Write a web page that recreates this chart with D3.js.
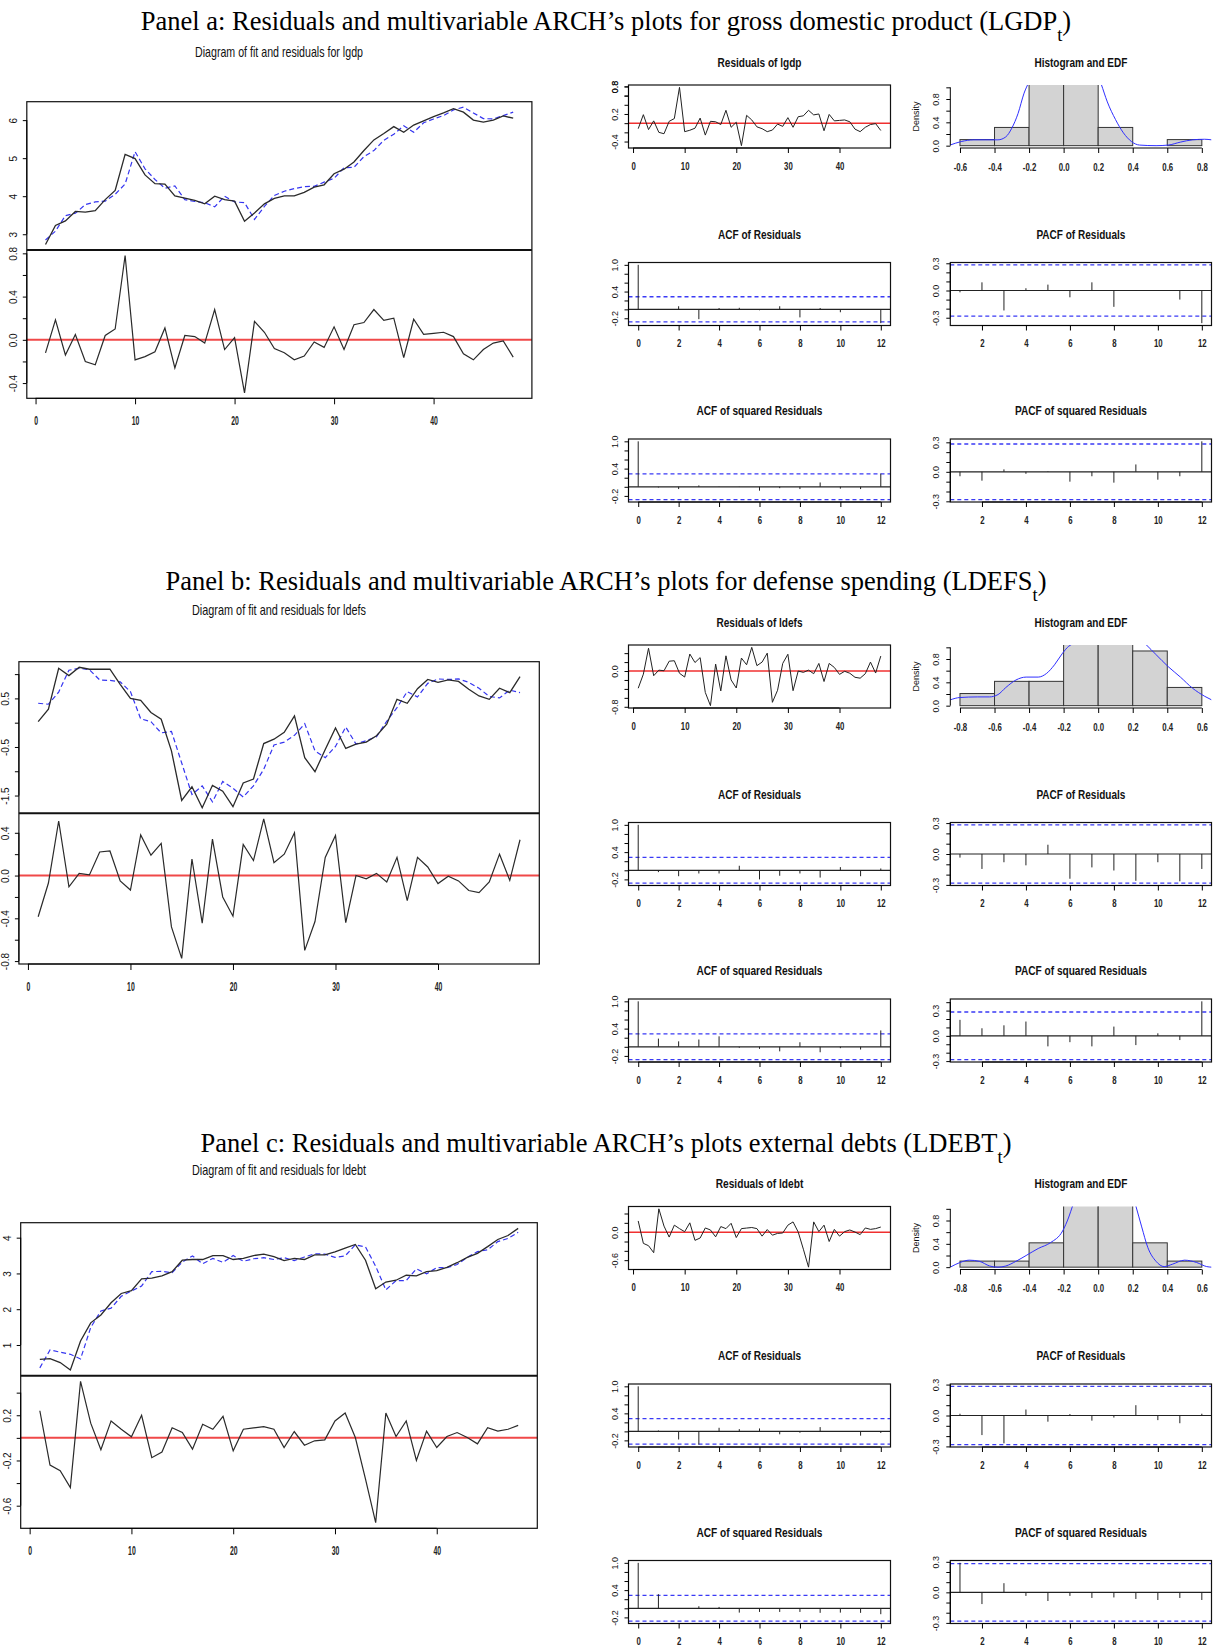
<!DOCTYPE html>
<html>
<head>
<meta charset="utf-8">
<script src="https://cdn.jsdelivr.net/npm/d3@7"></script>
<style>
body { margin: 0; background: #fff; }
svg text { font-family: "Liberation Sans", Arial, sans-serif; fill: #111; }
svg text.ptitle { font-family: "Liberation Serif", "Times New Roman", serif; fill: #000; }
svg .x.axis text { font-weight: bold; fill: #222; }
</style>
</head>
<body>
<div id="chart-area"></div>
<script>
/*
*    ARCH residual diagnostics for lgdp, ldefs, ldebt
*/

// ---------- Panel a : lgdp ----------
var gdpActual = [2.73,3.23,3.35,3.60,3.58,3.62,3.91,4.15,5.10,4.99,4.56,4.33,4.32,4.01,3.95,3.89,3.80,4.00,3.91,3.87,
    3.34,3.56,3.80,3.94,4.01,4.01,4.10,4.24,4.30,4.59,4.71,4.90,5.20,5.48,5.65,5.83,5.68,5.87,5.98,6.09,
    6.19,6.30,6.21,6.00,5.95,6.00,6.11,6.05];
var gdpFitted = [2.85,3.08,3.49,3.55,3.78,3.85,3.87,4.05,4.32,5.17,4.72,4.44,4.21,4.27,3.91,3.86,3.83,3.72,4.00,3.85,
    3.83,3.39,3.73,4.02,4.13,4.20,4.25,4.26,4.37,4.47,4.75,4.76,5.04,5.20,5.47,5.63,5.85,5.68,5.93,6.03,
    6.12,6.27,6.34,6.19,6.04,6.03,6.12,6.21];
var gdpResid = [-0.12,0.185,-0.14,0.05,-0.2,-0.23,0.04,0.1,0.78,-0.185,-0.155,-0.11,0.11,-0.26,0.04,0.03,-0.03,0.28,-0.09,0.02,
    -0.49,0.17,0.07,-0.08,-0.12,-0.185,-0.15,-0.02,-0.07,0.12,-0.09,0.14,0.16,0.28,0.18,0.2,-0.165,0.19,0.05,0.06,
    0.07,0.03,-0.13,-0.185,-0.09,-0.03,-0.01,-0.16];
var gdpBreaks = [-0.6,-0.4,-0.2,0,0.2,0.4,0.6,0.8];
var gdpDensity = [0.104,0.3125,2.08,2.08,0.3125,0,0.104];
var gdpEdfX = [-0.656,-0.593,-0.52,-0.45,-0.38,-0.335,-0.30,-0.264,-0.229,-0.20,-0.10,0.0,0.10,0.217,0.253,0.30,0.346,0.393,0.44,0.535,0.605,0.675,0.746,0.816,0.856];
var gdpEdfY = [0.012,0.07,0.10,0.10,0.10,0.15,0.30,0.55,0.90,1.10,1.9,2.2,1.9,1.06,0.75,0.45,0.22,0.07,0.01,0.0,0.01,0.06,0.10,0.11,0.10];
var gdpAcf    = [1,-0.01,0.07,-0.22,0.03,0.035,-0.02,0.07,-0.18,0.03,-0.065,-0.01,-0.31];
var gdpPacf   = [-0.02,0.09,-0.22,0.025,0.065,-0.075,0.09,-0.18,0.005,-0.005,-0.10,-0.36];
var gdpAcfSq  = [1,-0.015,-0.05,0.03,0.005,-0.005,-0.085,-0.03,-0.05,0.095,-0.04,-0.05,0.29];
var gdpPacfSq = [-0.045,-0.09,0.025,-0.02,0.005,-0.1,-0.045,-0.11,0.075,-0.08,-0.045,0.31];
var gdpFitTicks = [3,4,5,6], gdpFitLabels = [3,4,5,6];
var gdpResTicks = [-0.4,-0.2,0,0.2,0.4,0.6,0.8], gdpResLabels = [-0.4,0,0.4,0.8];
var gdpSmallLabels = [-0.4,0.2,0.8];

// ---------- Panel b : ldefs ----------
var defsActual = [0.02,0.28,1.12,0.97,1.14,1.10,1.10,1.10,0.79,0.50,0.46,0.21,0.07,-0.58,-1.60,-1.32,-1.75,-1.29,-1.41,-1.73,
    -1.24,-1.16,-0.43,-0.34,-0.20,0.14,-0.72,-1.01,-0.55,-0.11,-0.53,-0.44,-0.40,-0.27,-0.03,0.48,0.40,0.70,0.89,0.83,
    0.88,0.85,0.69,0.55,0.48,0.71,0.62,0.95];
var defsFitted = [0.40,0.38,0.63,1.08,1.12,1.09,0.88,0.87,0.84,0.64,0.08,0.02,-0.21,-0.18,-0.83,-1.48,-1.30,-1.63,-1.21,-1.35,
    -1.53,-1.30,-0.96,-0.46,-0.40,-0.26,-0.02,-0.58,-0.72,-0.49,-0.09,-0.44,-0.37,-0.29,0.03,0.31,0.64,0.53,0.81,0.90,
    0.89,0.90,0.83,0.71,0.54,0.51,0.67,0.62];
var defsResid = [-0.385,-0.07,0.51,-0.105,0.02,0.006,0.22,0.23,-0.05,-0.135,0.38,0.19,0.30,-0.48,-0.775,0.155,-0.445,0.34,-0.20,-0.38,
    0.29,0.14,0.53,0.12,0.20,0.40,-0.70,-0.43,0.17,0.375,-0.44,0.0,-0.03,0.02,-0.06,0.17,-0.235,0.17,0.08,-0.075,
    -0.006,-0.05,-0.14,-0.16,-0.06,0.20,-0.045,0.335];
var defsBreaks = [-0.8,-0.6,-0.4,-0.2,0,0.2,0.4,0.6];
var defsDensity = [0.208,0.417,0.417,1.25,1.46,0.9375,0.3125];
var defsEdfX = [-0.856,-0.80,-0.70,-0.63,-0.58,-0.535,-0.476,-0.417,-0.347,-0.30,-0.253,-0.206,-0.17,-0.147,-0.05,0.05,0.15,0.276,0.335,0.405,0.476,0.546,0.617,0.656];
var defsEdfY = [0.10,0.14,0.15,0.15,0.19,0.31,0.44,0.49,0.49,0.55,0.70,0.90,1.02,1.06,1.4,1.5,1.35,1.05,0.875,0.67,0.49,0.30,0.16,0.10];
var defsAcf    = [1,-0.04,-0.13,-0.07,-0.07,0.10,-0.20,-0.12,-0.07,-0.16,0.07,-0.13,0.04];
var defsPacf   = [-0.035,-0.145,-0.08,-0.11,0.09,-0.24,-0.13,-0.16,-0.26,-0.08,-0.265,-0.145];
var defsAcfSq  = [1,0.18,0.12,0.16,0.23,-0.02,-0.045,-0.10,0.10,-0.12,-0.03,-0.06,0.36];
var defsPacfSq = [0.19,0.09,0.125,0.17,-0.125,-0.075,-0.125,0.11,-0.11,0.03,-0.05,0.41];
var defsFitTicks = [-1.5,-1,-0.5,0,0.5,1], defsFitLabels = [-1.5,-0.5,0.5];
var defsResTicks = [-0.8,-0.6,-0.4,-0.2,0,0.2,0.4], defsResLabels = [-0.8,-0.4,0,0.4];
var defsSmallLabels = [-0.8,0];

// ---------- Panel c : ldebt ----------
var debtActual = [0.60,0.62,0.51,0.30,1.11,1.62,1.84,2.18,2.44,2.52,2.85,2.87,2.93,3.05,3.37,3.39,3.39,3.50,3.50,3.39,
    3.42,3.50,3.54,3.47,3.36,3.42,3.39,3.52,3.52,3.60,3.71,3.81,3.37,2.57,2.76,2.81,2.95,2.93,3.05,3.08,
    3.17,3.30,3.45,3.56,3.75,3.95,4.06,4.26];
var debtFitted = [0.36,0.86,0.80,0.74,0.61,1.49,1.95,2.03,2.36,2.51,2.65,3.05,3.06,3.02,3.32,3.49,3.27,3.42,3.31,3.50,
    3.34,3.41,3.44,3.39,3.44,3.36,3.46,3.55,3.54,3.45,3.49,3.80,3.74,3.20,2.54,2.80,2.80,3.13,2.99,3.16,
    3.16,3.25,3.45,3.61,3.66,3.89,3.98,4.15];
var debtResid = [0.24,-0.24,-0.29,-0.44,0.50,0.13,-0.105,0.15,0.076,0.01,0.20,-0.175,-0.125,0.09,0.047,-0.10,0.12,0.076,0.19,-0.115,
    0.076,0.088,0.10,0.076,-0.085,0.056,-0.065,-0.026,-0.018,0.15,0.22,0.003,-0.365,-0.75,0.22,0.012,0.15,-0.20,0.06,-0.085,
    0.012,0.047,0.003,-0.053,0.09,0.06,0.076,0.11];
var debtBreaks = [-0.8,-0.6,-0.4,-0.2,0,0.2,0.4,0.6];
var debtDensity = [0.104,0.104,0.417,1.875,1.98,0.417,0.104];
var debtEdfX = [-0.856,-0.80,-0.746,-0.687,-0.628,-0.58,-0.535,-0.476,-0.417,-0.347,-0.276,-0.206,-0.17,-0.147,-0.05,0.05,0.15,0.217,0.252,0.287,0.335,0.382,0.429,0.50,0.57,0.628,0.656];
var debtEdfY = [0.0,0.08,0.12,0.10,0.02,0.0,0.02,0.10,0.20,0.32,0.42,0.62,0.86,1.06,1.8,2.0,1.7,1.06,0.69,0.34,0.10,0.01,0.05,0.12,0.08,0.01,0.0];
var debtAcf    = [1,0.02,-0.18,-0.295,0.08,0.05,0.065,-0.065,-0.03,0.095,0.003,-0.095,-0.035];
var debtPacf   = [0.017,-0.19,-0.27,0.058,-0.06,0.014,-0.05,-0.02,0.10,-0.045,-0.075,0.017];
var debtAcfSq  = [1,0.31,-0.01,0.045,0.03,-0.095,-0.08,-0.08,-0.08,-0.10,-0.095,-0.10,-0.13];
var debtPacfSq = [0.29,-0.115,0.09,-0.035,-0.085,-0.035,-0.055,-0.05,-0.065,-0.075,-0.055,-0.075];
var debtFitTicks = [1,2,3,4], debtFitLabels = [1,2,3,4];
var debtResTicks = [-0.6,-0.4,-0.2,0,0.2,0.4], debtResLabels = [-0.6,-0.2,0.2];
var debtSmallLabels = [-0.6,0];

// ---------- shared ticks ----------
var timeTicks = [0,10,20,30,40];
var acfLagTicks = [0,2,4,6,8,10,12];
var pacfLagTicks = [2,4,6,8,10,12];
var acfTicks = [-0.2,0,0.2,0.4,0.6,0.8,1.0], acfLabels = [-0.2,0.4,1.0];
var pacfTicks = [-0.3,-0.2,-0.1,0,0.1,0.2,0.3,0.4], pacfLabels = [-0.3,0,0.3];
var densTicks = [0,0.2,0.4,0.6,0.8,1.0], densLabels = [0,0.4,0.8];
var ciLevel = 0.283;   // 1.96/sqrt(48)

var width = 1216, height = 1647;

var svg = d3.select("#chart-area").append("svg")
    .attr("width", width)
    .attr("height", height);

// R style axis range: data range stretched 4%
function pad(lo, hi) { var d = (hi - lo) * 0.04; return [lo - d, hi + d]; }
function fmt1(d) { return (Math.round(d * 10) / 10).toFixed(1); }
function fmtInt(d) { return String(d); }
function has(arr, v) { return arr.some(function(a){ return Math.abs(a - v) < 1e-9; }); }

function box(g, x0, y0, x1, y1) {
    g.append("rect")
        .attr("x", x0).attr("y", y0)
        .attr("width", x1 - x0).attr("height", y1 - y0)
        .attr("fill", "none")
        .attr("stroke", "#111")
        .attr("stroke-width", 1.2);
}

function bottomAxis(g, scale, ticks, y, fmt, fs, sx, labelY, tick) {
    var ax = g.append("g")
        .attr("class", "x axis")
        .attr("transform", "translate(0," + y + ")")
        .call(d3.axisBottom(scale).tickValues(ticks).tickSize(tick).tickSizeOuter(0).tickFormat(fmt));
    ax.select(".domain").attr("d", "M" + scale(ticks[0]) + ",0H" + scale(ticks[ticks.length - 1]));
    ax.selectAll("text")
        .attr("y", labelY)
        .attr("dy", "0.35em")
        .attr("font-size", fs)
        .attr("transform", "scale(" + sx + ",1)");
    return ax;
}

function leftAxis(g, scale, ticks, labels, fmt, x, fs, gap) {
    var dom = scale.domain();
    ticks = ticks.filter(function(t){ return t >= Math.min(dom[0], dom[1]) - 1e-9 && t <= Math.max(dom[0], dom[1]) + 1e-9; });
    var ax = g.append("g")
        .attr("class", "y axis")
        .attr("transform", "translate(" + x + ",0)")
        .call(d3.axisLeft(scale).tickValues(ticks).tickSize(4).tickSizeOuter(0)
            .tickFormat(function(d){ return has(labels, d) ? fmt(d) : ""; }));
    ax.select(".domain").attr("d", "M0," + scale(ticks[0]) + "V" + scale(ticks[ticks.length - 1]));
    ax.selectAll("text")
        .attr("x", 0)
        .attr("y", -gap)
        .attr("dy", "0.35em")
        .attr("font-size", fs)
        .attr("text-anchor", "middle")
        .attr("transform", "rotate(-90)");
    return ax;
}

function smallTitle(txt, cx, cy, len) {
    svg.append("text")
        .attr("x", cx).attr("y", cy)
        .attr("dy", "0.35em")
        .attr("text-anchor", "middle")
        .attr("font-size", 13)
        .attr("font-weight", "bold")
        .attr("textLength", len)
        .attr("lengthAdjust", "spacingAndGlyphs")
        .text(txt);
}

var clipId = 0;

// Big fit + residual chart on the left
function drawFit(p) {
    var L = p.big;
    var g = svg.append("g");
    var x = d3.scaleLinear().domain(pad(1, 48)).range([L.x0, L.x1]);
    var both = p.actual.concat(p.fitted);
    var yU = d3.scaleLinear().domain(pad(d3.min(both), d3.max(both))).range([L.mid, L.top]);
    var yL = d3.scaleLinear().domain(pad(d3.min(p.resid), d3.max(p.resid))).range([L.bot, L.mid]);

    var lineU = d3.line().x(function(d, i){ return x(i + 1); }).y(function(d){ return yU(d); });
    var lineL = d3.line().x(function(d, i){ return x(i + 1); }).y(function(d){ return yL(d); });

    g.append("path").attr("d", lineU(p.fitted))
        .attr("fill", "none").attr("stroke", "#3535f0").attr("stroke-width", 1.2)
        .attr("stroke-dasharray", "5,3");
    g.append("path").attr("d", lineU(p.actual))
        .attr("fill", "none").attr("stroke", "#2a2a2a").attr("stroke-width", 1.3);

    g.append("line")
        .attr("x1", L.x0).attr("x2", L.x1)
        .attr("y1", yL(0)).attr("y2", yL(0))
        .attr("stroke", "#f04848").attr("stroke-width", 2);
    g.append("path").attr("d", lineL(p.resid))
        .attr("fill", "none").attr("stroke", "#2a2a2a").attr("stroke-width", 1.2);

    box(g, L.x0, L.top, L.x1, L.bot);
    g.append("line")
        .attr("x1", L.x0).attr("x2", L.x1)
        .attr("y1", L.mid).attr("y2", L.mid)
        .attr("stroke", "#111").attr("stroke-width", 2);

    bottomAxis(g, x, timeTicks, L.bot, fmtInt, 12.5, 0.55, 22.7, 6);
    leftAxis(g, yU, p.fitTicks, p.fitLabels, p.fitFmt, L.x0, 10, 13);
    leftAxis(g, yL, p.resTicks, p.resLabels, fmt1, L.x0, 10, 13);
}

// Small residual series plot
function drawResidSmall(p, c, top, h) {
    var g = svg.append("g");
    var x = d3.scaleLinear().domain(pad(1, 48)).range(c);
    var y = d3.scaleLinear().domain(pad(d3.min(p.resid), d3.max(p.resid))).range([top + h, top]);
    var line = d3.line().x(function(d, i){ return x(i + 1); }).y(function(d){ return y(d); });
    g.append("line")
        .attr("x1", c[0]).attr("x2", c[1]).attr("y1", y(0)).attr("y2", y(0))
        .attr("stroke", "#f03030").attr("stroke-width", 1.5);
    g.append("path").attr("d", line(p.resid))
        .attr("fill", "none").attr("stroke", "#222").attr("stroke-width", 1);
    box(g, c[0], top, c[1], top + h);
    bottomAxis(g, x, timeTicks, top + h, fmtInt, 10, 0.78, 18.5, 5);
    leftAxis(g, y, p.resTicks.concat([0.6, 0.8]), p.smallLabels, fmt1, c[0], 9, 14);
}

// Histogram with density curve
function drawHist(p, c, top, h) {
    var g = svg.append("g");
    var b = p.breaks;
    var x = d3.scaleLinear().domain(pad(b[0], b[b.length - 1])).range(c);
    var y = d3.scaleLinear().domain(pad(0, 1)).range([top + h, top]);
    var id = "clip" + (clipId++);
    svg.append("clipPath").attr("id", id).append("rect")
        .attr("x", c[0]).attr("y", top).attr("width", c[1] - c[0]).attr("height", h);
    var inner = g.append("g").attr("clip-path", "url(#" + id + ")");
    inner.selectAll("rect.bar").data(p.density).enter().append("rect")
        .attr("class", "bar")
        .attr("x", function(d, i){ return x(b[i]); })
        .attr("width", function(d, i){ return x(b[i + 1]) - x(b[i]); })
        .attr("y", function(d){ return y(d); })
        .attr("height", function(d){ return y(0) - y(d); })
        .attr("fill", "#d3d3d3")
        .attr("stroke", "#333")
        .attr("stroke-width", 1);
    var edf = p.edfX.map(function(v, i){ return [v, p.edfY[i]]; });
    inner.append("path")
        .attr("d", d3.line().curve(d3.curveMonotoneX)
            .x(function(d){ return x(d[0]); }).y(function(d){ return y(d[1]); })(edf))
        .attr("fill", "none").attr("stroke", "#2f2fff").attr("stroke-width", 1);
    bottomAxis(g, x, b, top + h, fmt1, 10, 0.78, 19.5, 5);
    leftAxis(g, y, densTicks, densLabels, fmt1, c[0], 9, 14);
    g.append("text")
        .attr("transform", "translate(" + (c[0] - 34) + "," + (top + h / 2) + ") rotate(-90)")
        .attr("dy", "0.35em")
        .attr("text-anchor", "middle")
        .attr("font-size", 9)
        .text("Density");
}

// ACF / PACF spike plot
function drawAcf(vals, firstLag, c, top, h, lagTicks, yTicks, yLabels) {
    var g = svg.append("g");
    var lags = vals.map(function(v, i){ return i + firstLag; });
    var x = d3.scaleLinear().domain(pad(firstLag, firstLag + vals.length - 1)).range(c);
    var lo = Math.min(-ciLevel, d3.min(vals)), hi = Math.max(ciLevel, d3.max(vals));
    var y = d3.scaleLinear().domain(pad(lo, hi)).range([top + h, top]);

    g.append("line")
        .attr("x1", c[0]).attr("x2", c[1]).attr("y1", y(0)).attr("y2", y(0))
        .attr("stroke", "#222").attr("stroke-width", 1.2);
    [ciLevel, -ciLevel].forEach(function(v){
        g.append("line")
            .attr("x1", c[0]).attr("x2", c[1]).attr("y1", y(v)).attr("y2", y(v))
            .attr("stroke", "#3a3af5").attr("stroke-width", 1.3)
            .attr("stroke-dasharray", "4,3");
    });
    g.selectAll("line.spike").data(vals).enter().append("line")
        .attr("class", "spike")
        .attr("x1", function(d, i){ return x(lags[i]); })
        .attr("x2", function(d, i){ return x(lags[i]); })
        .attr("y1", y(0))
        .attr("y2", function(d){ return y(d); })
        .attr("stroke", "#222").attr("stroke-width", 1);
    box(g, c[0], top, c[1], top + h);
    bottomAxis(g, x, lagTicks, top + h, fmtInt, 10, 0.78, 18.5, 5);
    leftAxis(g, y, yTicks, yLabels, fmt1, c[0], 9, 14);
}

var panels = [
    { title: "Panel a: Residuals and multivariable ARCH\u2019s plots for gross domestic product (LGDP",
      sub: "Diagram of fit and residuals for lgdp", subLen: 168, name: "lgdp", resTitleLen: 84,
      actual: gdpActual, fitted: gdpFitted, resid: gdpResid,
      breaks: gdpBreaks, density: gdpDensity, edfX: gdpEdfX, edfY: gdpEdfY,
      acf: gdpAcf, pacf: gdpPacf, acfSq: gdpAcfSq, pacfSq: gdpPacfSq,
      fitTicks: gdpFitTicks, fitLabels: gdpFitLabels, fitFmt: fmtInt,
      resTicks: gdpResTicks, resLabels: gdpResLabels, smallLabels: gdpSmallLabels,
      dy: 0, titleY: 21, subY: 51.7,
      big: { x0: 26.8, x1: 531.9, top: 101.7, mid: 250, bot: 398.3 } },
    { title: "Panel b: Residuals and multivariable ARCH\u2019s plots for defense spending (LDEFS",
      sub: "Diagram of fit and residuals for ldefs", subLen: 174, name: "ldefs", resTitleLen: 86,
      actual: defsActual, fitted: defsFitted, resid: defsResid,
      breaks: defsBreaks, density: defsDensity, edfX: defsEdfX, edfY: defsEdfY,
      acf: defsAcf, pacf: defsPacf, acfSq: defsAcfSq, pacfSq: defsPacfSq,
      fitTicks: defsFitTicks, fitLabels: defsFitLabels, fitFmt: fmt1,
      resTicks: defsResTicks, resLabels: defsResLabels, smallLabels: defsSmallLabels,
      dy: 560, titleY: 580.7, subY: 609.3,
      big: { x0: 18.9, x1: 539.3, top: 661.7, mid: 813.3, bot: 964 } },
    { title: "Panel c: Residuals and multivariable ARCH\u2019s plots external debts (LDEBT",
      sub: "Diagram of fit and residuals for ldebt", subLen: 174, name: "ldebt", resTitleLen: 87.6,
      actual: debtActual, fitted: debtFitted, resid: debtResid,
      breaks: debtBreaks, density: debtDensity, edfX: debtEdfX, edfY: debtEdfY,
      acf: debtAcf, pacf: debtPacf, acfSq: debtAcfSq, pacfSq: debtPacfSq,
      fitTicks: debtFitTicks, fitLabels: debtFitLabels, fitFmt: fmtInt,
      resTicks: debtResTicks, resLabels: debtResLabels, smallLabels: debtSmallLabels,
      dy: 1121.5, titleY: 1142.7, subY: 1170,
      big: { x0: 20.7, x1: 537.3, top: 1222.7, mid: 1375.7, bot: 1528.3 } }
];

var colL = [628.5, 890.5], colR = [950.3, 1211.5];
var rowTops = [85, 262.5, 439], rowGap = [23, 28.5, 28.5], boxH = 63;
var cxL = (colL[0] + colL[1]) / 2, cxR = (colR[0] + colR[1]) / 2;

panels.forEach(function(p) {
    // panel heading
    var t = svg.append("text")
        .attr("class", "ptitle")
        .attr("x", 606).attr("y", p.titleY)
        .attr("dy", "0.35em")
        .attr("text-anchor", "middle")
        .attr("font-size", 26.5);
    t.append("tspan").text(p.title);
    t.append("tspan").attr("font-size", "70%").attr("baseline-shift", "sub").text("t");
    t.append("tspan").text(")");

    svg.append("text")
        .attr("x", 279).attr("y", p.subY)
        .attr("dy", "0.35em")
        .attr("text-anchor", "middle")
        .attr("font-size", 15)
        .attr("fill", "#222")
        .attr("textLength", p.subLen)
        .attr("lengthAdjust", "spacingAndGlyphs")
        .text(p.sub);

    drawFit(p);

    var r0 = rowTops[0] + p.dy, r1 = rowTops[1] + p.dy, r2 = rowTops[2] + p.dy;
    smallTitle("Residuals of " + p.name, cxL, r0 - rowGap[0], p.resTitleLen);
    smallTitle("Histogram and EDF", cxR, r0 - rowGap[0], 93);
    drawResidSmall(p, colL, r0, boxH);
    drawHist(p, colR, r0, boxH);

    smallTitle("ACF of Residuals", cxL, r1 - rowGap[1], 83);
    smallTitle("PACF of Residuals", cxR, r1 - rowGap[1], 89);
    drawAcf(p.acf, 0, colL, r1, boxH, acfLagTicks, acfTicks, acfLabels);
    drawAcf(p.pacf, 1, colR, r1, boxH, pacfLagTicks, pacfTicks, pacfLabels);

    smallTitle("ACF of squared Residuals", cxL, r2 - rowGap[2], 126);
    smallTitle("PACF of squared Residuals", cxR, r2 - rowGap[2], 132);
    drawAcf(p.acfSq, 0, colL, r2, boxH, acfLagTicks, acfTicks, acfLabels);
    drawAcf(p.pacfSq, 1, colR, r2, boxH, pacfLagTicks, pacfTicks, pacfLabels);
});
</script>
</body>
</html>
